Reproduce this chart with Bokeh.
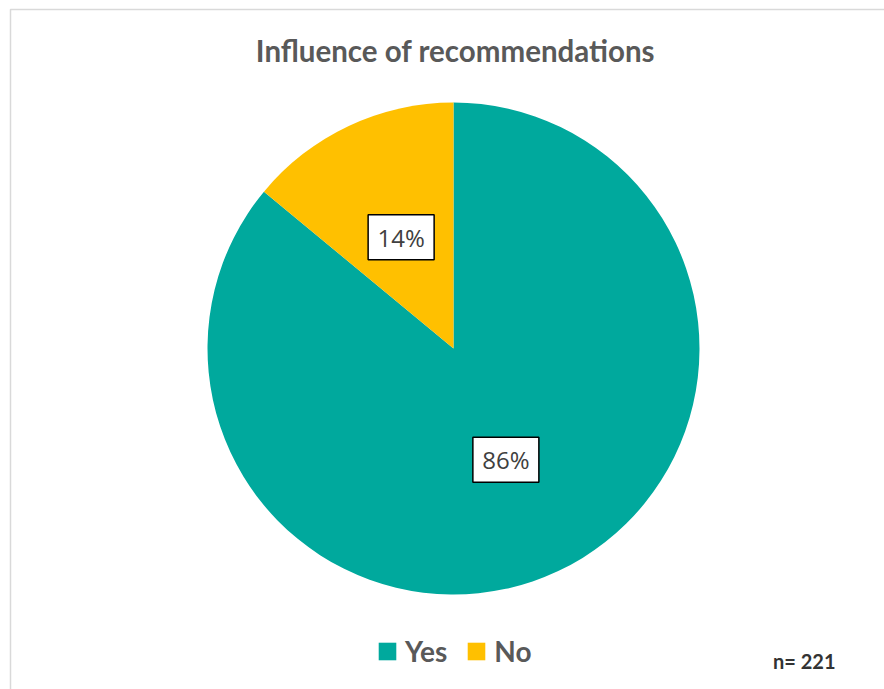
import numpy as np
from bokeh.plotting import figure
from bokeh.models import Range1d, ColumnDataSource, Legend, LegendItem
from bokeh.core.properties import value
from bokeh.embed import file_html
from bokeh.resources import INLINE

categories = ["Yes", "No"]
shares = [86, 14]
colors = ["#00A99D", "#FFC000"]
title_text = "Influence of recommendations"
note_text = "n= 221"

W, H = 884, 689
p = figure(width=W, height=H, output_backend="svg", toolbar_location=None,
           x_range=Range1d(0, W), y_range=Range1d(0, H), min_border=0,
           match_aspect=False)
p.axis.visible = False
p.grid.visible = False
p.outline_line_color = None
p.background_fill_color = "white"
p.border_fill_color = "white"

def Y(y):
    return H - y

# chart frame
p.rect(x=[(10 + 960) / 2], y=[Y((9 + 760) / 2)], width=[950], height=[751],
       fill_color=None, line_color="#D9D9D9", line_width=1.5)

cx, cy, R = 453, Y(348), 246
vals = np.array(shares, dtype=float)
frac = vals / vals.sum()
cum = np.concatenate([[0], np.cumsum(frac)])
# clockwise from 12 o'clock
start_cw = np.pi / 2 - cum[:-1] * 2 * np.pi
end_cw = np.pi / 2 - cum[1:] * 2 * np.pi
src = ColumnDataSource(dict(cat=categories, start=end_cw, end=start_cw, color=colors,
                            mid=(start_cw + end_cw) / 2,
                            lab=[f"{round(f*100)}%" for f in frac]))
r = p.wedge(x=cx, y=cy, radius=R, start_angle="start", end_angle="end",
            fill_color="color", line_color=None, source=src)

lx = cx + 0.5 * R * np.cos(src.data["mid"])
ly = cy + 0.5 * R * np.sin(src.data["mid"])
lsrc = ColumnDataSource(dict(x=lx, y=ly, lab=src.data["lab"]))
p.rect(x="x", y="y", width=66, height=45, width_units="screen", height_units="screen",
       fill_color="white", line_color="black", line_width=1.5, source=lsrc)
p.text(x="x", y="y", text="lab", source=lsrc, text_align="center", text_baseline="middle",
       text_font=value("Open Sans"), text_font_size="24px", text_color="#404040")

# title
p.text(x=[455], y=[Y(50)], text=[title_text], text_align="center", text_baseline="middle",
       text_font=value("Lato"), text_font_style="bold", text_font_size="29.5px",
       text_color="#595959")

# note
p.text(x=[835], y=[Y(660)], text=[note_text], text_align="right", text_baseline="middle",
       text_font=value("Lato"), text_font_style="bold", text_font_size="20px",
       text_color="#333333")

legend = Legend(items=[LegendItem(label=c, renderers=[r], index=i) for i, c in enumerate(categories)],
                orientation="horizontal", location=(376, 21),
                glyph_width=22, glyph_height=22, label_standoff=7, spacing=18,
                padding=0, margin=0, border_line_color=None, background_fill_alpha=0,
                label_text_font="Lato", label_text_font_style="bold",
                label_text_font_size="28px", label_text_color="#595959",
                label_height=22)
p.add_layout(legend, "center")

open("out.html", "w").write(file_html(p, INLINE))
